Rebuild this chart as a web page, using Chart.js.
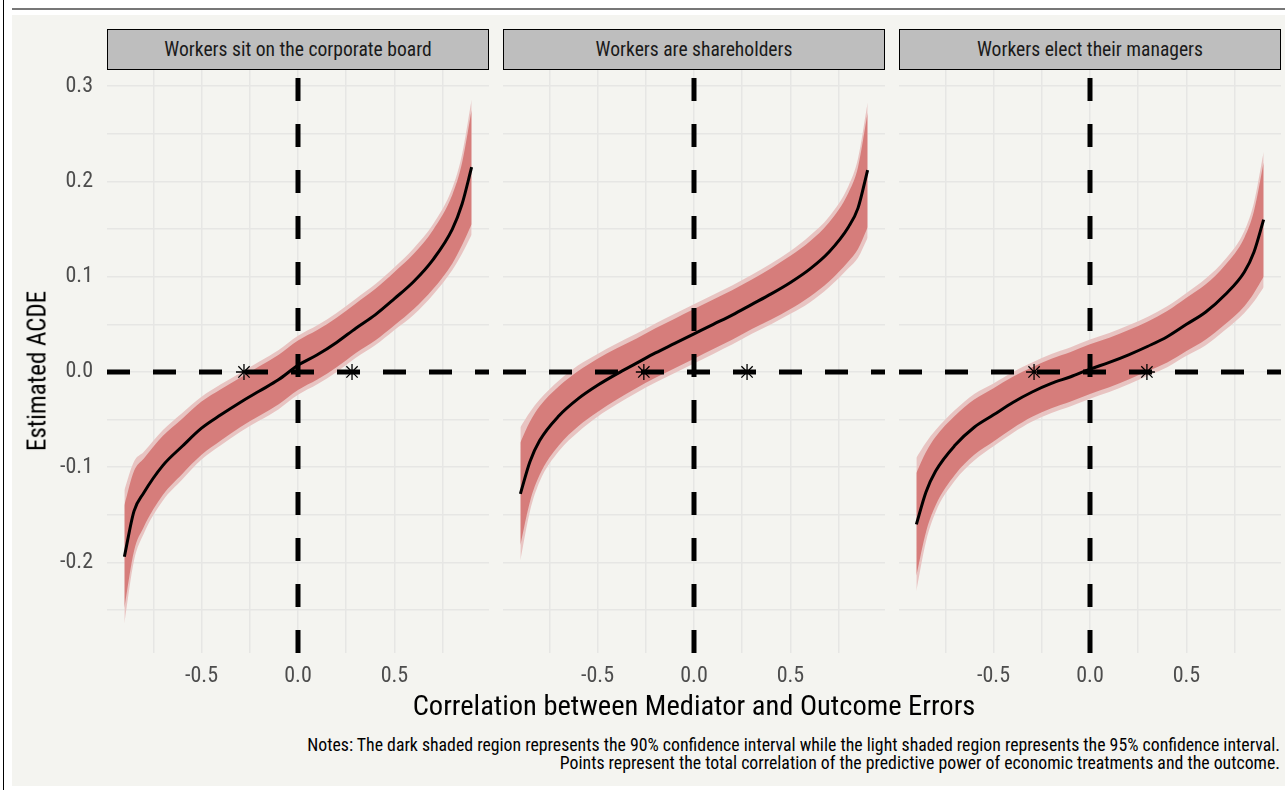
<!DOCTYPE html>
<html>
<head>
<meta charset="utf-8">
<script src="https://cdn.jsdelivr.net/npm/chart.js"></script>
<style>
  body { margin: 0; width: 1285px; height: 790px; background: #fff; position: relative; overflow: hidden;
         font-family: "Roboto Condensed", "Liberation Sans Narrow", "DejaVu Sans Condensed", Roboto, sans-serif; }
  #linea-izq { position: absolute; left: 3px; top: 0; width: 1px; height: 790px; background: #000; }
  #linea-sup { position: absolute; left: 12px; top: 8px; width: 1273px; height: 2px; background: #777; }
  #fondo { position: absolute; left: 12px; top: 15px; width: 1273px; height: 771px; background: #f4f4f0; }
  .tira { position: absolute; top: 29px; height: 41px; width: 382px; box-sizing: border-box;
          background: #bebebe; border: 1.5px solid #000; color: #1a1a1a; font-size: 19.6px;
          display: flex; align-items: center; justify-content: center; }
  canvas { position: absolute; top: 70px; }
  #titulo-y { position: absolute; left: 37px; top: 371px; transform: translate(-50%, -50%) rotate(-90deg);
              font-size: 25px; color: #000; white-space: nowrap; }
  #titulo-x { position: absolute; left: 694px; top: 705px; transform: translate(-50%, -50%);
              font-size: 28.5px; color: #000; white-space: nowrap; }
  #notas { position: absolute; right: 5px; top: 736px; text-align: right; font-size: 17.8px;
           line-height: 18px; color: #000; white-space: nowrap; }
</style>
</head>
<body>
<div id="linea-izq"></div>
<div id="linea-sup"></div>
<div id="fondo"></div>

<div class="tira" style="left:107px">Workers sit on the corporate board</div>
<div class="tira" style="left:503px">Workers are shareholders</div>
<div class="tira" style="left:899px">Workers elect their managers</div>

<canvas id="panel1" width="469" height="630" style="left:20px"></canvas>
<canvas id="panel2" width="382" height="630" style="left:503px"></canvas>
<canvas id="panel3" width="382" height="630" style="left:899px"></canvas>

<div id="titulo-y">Estimated ACDE</div>
<div id="titulo-x">Correlation between Mediator and Outcome Errors</div>
<div id="notas">Notes: The dark shaded region represents the 90% confidence interval while the light shaded region represents the 95% confidence interval.<br>Points represent the total correlation of the predictive power of economic treatments and the outcome.</div>

<script>
// correlación entre errores (eje x)
const correlaciones = [-0.9, -0.85, -0.8, -0.7, -0.6, -0.5, -0.4, -0.3, -0.2, -0.1, 0, 0.1, 0.2, 0.3, 0.4, 0.5, 0.6, 0.7, 0.8, 0.85, 0.9];

// Panel 1: Workers sit on the corporate board
const juntaEst  = [-0.194, -0.146, -0.127, -0.098, -0.078, -0.059, -0.045, -0.032, -0.020, -0.008, 0.007, 0.018, 0.031, 0.046, 0.060, 0.077, 0.095, 0.118, 0.150, 0.176, 0.215];
const juntaLo90 = [-0.248, -0.188, -0.163, -0.129, -0.107, -0.087, -0.072, -0.058, -0.046, -0.034, -0.019, -0.008, 0.005, 0.020, 0.033, 0.049, 0.066, 0.087, 0.114, 0.133, 0.155];
const juntaHi90 = [-0.140, -0.104, -0.091, -0.067, -0.049, -0.031, -0.018, -0.006, 0.006, 0.018, 0.033, 0.044, 0.057, 0.072, 0.087, 0.105, 0.124, 0.149, 0.186, 0.219, 0.275];
const juntaLo95 = [-0.264, -0.198, -0.170, -0.135, -0.113, -0.092, -0.077, -0.063, -0.051, -0.039, -0.024, -0.013, 0.000, 0.015, 0.028, 0.044, 0.060, 0.081, 0.107, 0.124, 0.144];
const juntaHi95 = [-0.124, -0.094, -0.084, -0.061, -0.043, -0.026, -0.013, -0.001, 0.011, 0.023, 0.038, 0.049, 0.062, 0.077, 0.092, 0.110, 0.130, 0.155, 0.193, 0.228, 0.286];
const juntaPuntos = [-0.28, 0.28];

// Panel 2: Workers are shareholders
const accionEst  = [-0.128, -0.094, -0.072, -0.046, -0.028, -0.014, -0.002, 0.009, 0.020, 0.030, 0.040, 0.050, 0.060, 0.071, 0.082, 0.094, 0.108, 0.126, 0.152, 0.172, 0.212];
const accionLo90 = [-0.182, -0.136, -0.108, -0.077, -0.057, -0.042, -0.029, -0.017, -0.006, 0.004, 0.014, 0.024, 0.034, 0.045, 0.055, 0.066, 0.079, 0.095, 0.116, 0.129, 0.152];
const accionHi90 = [-0.074, -0.052, -0.036, -0.015, 0.001, 0.014, 0.025, 0.035, 0.046, 0.056, 0.066, 0.076, 0.086, 0.097, 0.109, 0.122, 0.137, 0.157, 0.188, 0.215, 0.272];
const accionLo95 = [-0.198, -0.146, -0.115, -0.083, -0.063, -0.047, -0.034, -0.022, -0.011, -0.001, 0.009, 0.019, 0.029, 0.040, 0.050, 0.061, 0.073, 0.089, 0.109, 0.120, 0.141];
const accionHi95 = [-0.058, -0.042, -0.029, -0.009, 0.007, 0.019, 0.030, 0.040, 0.051, 0.061, 0.071, 0.081, 0.091, 0.102, 0.114, 0.127, 0.143, 0.163, 0.195, 0.224, 0.283];
const accionPuntos = [-0.26, 0.275];

// Panel 3: Workers elect their managers
const eligenEst  = [-0.160, -0.126, -0.104, -0.077, -0.058, -0.045, -0.032, -0.021, -0.012, -0.005, 0.003, 0.010, 0.018, 0.027, 0.037, 0.050, 0.063, 0.081, 0.105, 0.126, 0.160];
const eligenLo90 = [-0.214, -0.168, -0.140, -0.108, -0.087, -0.073, -0.059, -0.047, -0.038, -0.031, -0.023, -0.016, -0.008, 0.001, 0.010, 0.022, 0.034, 0.050, 0.069, 0.083, 0.100];
const eligenHi90 = [-0.106, -0.084, -0.068, -0.046, -0.029, -0.017, -0.005, 0.005, 0.014, 0.021, 0.029, 0.036, 0.044, 0.053, 0.064, 0.078, 0.092, 0.112, 0.141, 0.169, 0.220];
const eligenLo95 = [-0.230, -0.178, -0.147, -0.114, -0.093, -0.078, -0.064, -0.052, -0.043, -0.036, -0.028, -0.021, -0.013, -0.004, 0.005, 0.017, 0.028, 0.044, 0.062, 0.074, 0.089];
const eligenHi95 = [-0.090, -0.074, -0.061, -0.040, -0.023, -0.012, 0.000, 0.010, 0.019, 0.026, 0.034, 0.041, 0.049, 0.058, 0.069, 0.083, 0.098, 0.118, 0.148, 0.178, 0.231];
const eligenPuntos = [-0.29, 0.295];

// límites de los ejes
const X_MIN = -0.99, X_MAX = 0.99;
const Y_MIN = -0.295, Y_MAX = 0.317;

const FUENTE = '"Roboto Condensed", "Liberation Sans Narrow", "DejaVu Sans Condensed", Roboto, sans-serif';
const GRIS_GRID = '#e6e6e4';

function pares(ys) {
    return correlaciones.map((x, i) => ({ x: x, y: ys[i] }));
}

function esMultiplo(v, paso) {
    const q = v / paso;
    return Math.abs(q - Math.round(q)) < 1e-6;
}

// quitar el relleno automático que Chart.js agrega a los ejes
function sinRelleno(s) {
    s.paddingTop = 0;
    s.paddingBottom = 0;
    s.paddingLeft = 0;
    s.paddingRight = 0;
}

function banda(ys, color, relleno, orden) {
    return {
        data: pares(ys), fill: relleno, backgroundColor: color,
        borderColor: 'rgba(0,0,0,0)', borderWidth: 1, pointRadius: 0,
        cubicInterpolationMode: 'monotone', order: orden
    };
}

function crearPanel(id, est, lo90, hi90, lo95, hi95, puntos, conEjeY) {
    const ctx = document.getElementById(id).getContext('2d');
    return new Chart(ctx, {
        type: 'line',
        data: {
            datasets: [
                banda(hi95, '#e8c4c2', '+1', 10),
                banda(lo95, '#e8c4c2', false, 9),
                banda(hi90, '#d67d7b', '+1', 8),
                banda(lo90, '#d67d7b', false, 7),
                {
                    data: pares(est), borderColor: '#000', borderWidth: 3, pointRadius: 0,
                    fill: false, cubicInterpolationMode: 'monotone', order: 3
                },
                // referencia horizontal en 0
                {
                    data: [{ x: X_MIN, y: 0 }, { x: X_MAX, y: 0 }], borderColor: '#000', borderWidth: 5,
                    borderDash: [23, 23], pointRadius: 0, fill: false, order: 2
                },
                // referencia vertical en 0 (de abajo hacia arriba)
                {
                    data: [{ x: 0, y: Y_MIN }, { x: 0, y: Y_MAX }], borderColor: '#000', borderWidth: 5,
                    borderDash: [23, 23], pointRadius: 0, fill: false, order: 2
                },
                {
                    type: 'scatter', data: puntos.map(p => ({ x: p, y: 0 })), pointStyle: 'star',
                    pointRadius: 8, borderColor: '#000', borderWidth: 1.3, backgroundColor: '#000', order: 1
                }
            ]
        },
        options: {
            responsive: false,
            animation: false,
            layout: { padding: 0, autoPadding: false },
            plugins: { legend: { display: false }, tooltip: { enabled: false } },
            scales: {
                x: {
                    type: 'linear', min: X_MIN, max: X_MAX,
                    grid: { color: GRIS_GRID, lineWidth: 1.5, drawTicks: false },
                    border: { display: false },
                    ticks: {
                        stepSize: 0.25, includeBounds: false, autoSkip: false, maxRotation: 0,
                        padding: 10, color: '#4d4d4d', font: { family: FUENTE, size: 22 },
                        callback: v => esMultiplo(v, 0.5) ? v.toFixed(1) : ''
                    },
                    afterFit: s => { s.height = 47; sinRelleno(s); }
                },
                y: {
                    type: 'linear', min: Y_MIN, max: Y_MAX,
                    grid: { color: GRIS_GRID, lineWidth: 1.5, drawTicks: false },
                    border: { display: false },
                    ticks: {
                        display: conEjeY, stepSize: 0.05, includeBounds: false, autoSkip: false,
                        padding: 14, color: '#4d4d4d', font: { family: FUENTE, size: 22 },
                        callback: v => esMultiplo(v, 0.1) ? v.toFixed(1) : ''
                    },
                    afterFit: s => { s.width = conEjeY ? 87 : 0; sinRelleno(s); }
                }
            }
        }
    });
}

crearPanel('panel1', juntaEst, juntaLo90, juntaHi90, juntaLo95, juntaHi95, juntaPuntos, true);
crearPanel('panel2', accionEst, accionLo90, accionHi90, accionLo95, accionHi95, accionPuntos, false);
crearPanel('panel3', eligenEst, eligenLo90, eligenHi90, eligenLo95, eligenHi95, eligenPuntos, false);
</script>
</body>
</html>
